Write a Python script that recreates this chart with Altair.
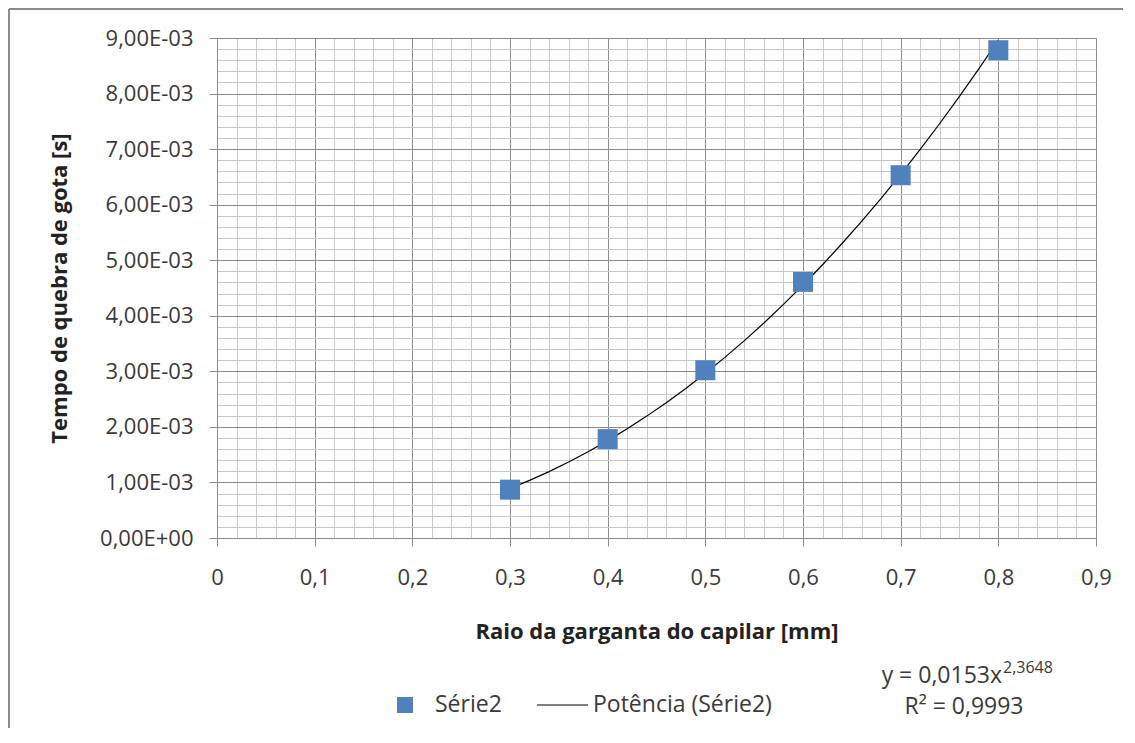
import altair as alt
import pandas as pd

# Data
radius_mm = [0.3, 0.4, 0.5, 0.6, 0.7, 0.8]
break_time_s = [0.00087, 0.00178, 0.00302, 0.00461, 0.00653, 0.00878]

# Tick positions (major every 0.1 / 0.001, minor every 0.02 / 0.0002)
x_ticks = [round(i * 0.02, 2) for i in range(46)]
y_ticks = [round(i * 0.0002, 5) for i in range(46)]

series_label = "Série2"
trend_label = "Potência (Série2)"
eq_main = "y = 0,0153x"
eq_exp = "2,3648"
r2_text = "R² = 0,9993"
x_title = "Raio da garganta do capilar [mm]"
y_title = "Tempo de quebra de gota [s]"

FONT = "Open Sans"
MAJOR = "#8c8c8c"
MINOR = "#c8c8c8"
TEXT = "#3a3a3a"
BLUE = "#4F81BD"

df = pd.DataFrame({"r": radius_mm, "t": break_time_s})

x_major_test = "abs(datum.value*10 - round(datum.value*10)) < 1e-6"
y_major_test = "abs(datum.value*1000 - round(datum.value*1000)) < 1e-6"

x_scale = alt.Scale(domain=[0, 0.9], nice=False, zero=False)
y_scale = alt.Scale(domain=[0, 0.009], nice=False, zero=False)

x_axis = alt.Axis(
    values=x_ticks,
    title=x_title,
    grid=True,
    gridColor={"condition": {"test": x_major_test, "value": MAJOR}, "value": MINOR},
    gridWidth=1,
    tickSize={"condition": {"test": x_major_test, "value": 8}, "value": 0},
    tickColor=MAJOR,
    domainColor=MAJOR,
    labelExpr=f"({x_major_test}) ? replace(format(datum.value, '.1~f'), '.', ',') : ''",
    labelOverlap=False,
    labelFlush=False,
    labelFont=FONT,
    labelFontSize=22,
    labelColor=TEXT,
    labelPadding=21,
    titleFont=FONT,
    titleFontSize=22,
    titleFontWeight="bold",
    titleColor="#222222",
    titlePadding=33,
)

y_axis = alt.Axis(
    values=y_ticks,
    title=y_title,
    grid=True,
    gridColor={"condition": {"test": y_major_test, "value": MAJOR}, "value": MINOR},
    gridWidth=1,
    tickSize={"condition": {"test": y_major_test, "value": 8}, "value": 0},
    tickColor=MAJOR,
    domainColor=MAJOR,
    labelExpr=(
        f"({y_major_test}) ? (datum.value == 0 ? '0,00E+00' : "
        "replace(format(datum.value*1000, '.2f'), '.', ',') + 'E-03') : ''"
    ),
    labelOverlap=False,
    labelFlush=False,
    labelFont=FONT,
    labelFontSize=22,
    labelColor=TEXT,
    labelPadding=16,
    titleFont=FONT,
    titleFontSize=22,
    titleFontWeight="bold",
    titleColor="#222222",
    titlePadding=28,
)

base = alt.Chart(df)

trend = base.transform_regression(
    "r", "t", method="pow", extent=[0.3, 0.8]
).mark_line(color="#000000", strokeWidth=1.2, clip=True).encode(
    x=alt.X("r:Q", scale=x_scale, axis=x_axis),
    y=alt.Y("t:Q", scale=y_scale, axis=y_axis),
)

points = base.mark_square(size=400, color=BLUE, opacity=1).encode(
    x=alt.X("r:Q", scale=x_scale, axis=x_axis),
    y=alt.Y("t:Q", scale=y_scale, axis=y_axis),
)

one = pd.DataFrame({"k": [0]})

def txt(s, x, y, size=23, align="left", weight="normal"):
    return alt.Chart(pd.DataFrame({"s": [s]})).mark_text(
        font=FONT, fontSize=size, align=align, baseline="middle",
        color=TEXT, fontWeight=weight
    ).encode(x=alt.value(x), y=alt.value(y), text="s:N")

leg_square = alt.Chart(one).mark_square(size=256, color=BLUE, opacity=1).encode(
    x=alt.value(188), y=alt.value(667)
)
leg_line = alt.Chart(one).mark_rule(color="#000000", strokeWidth=1).encode(
    x=alt.value(320), x2=alt.value(371), y=alt.value(667)
)

border_left = alt.Chart(one).mark_rule(color=MAJOR, strokeWidth=2).encode(
    x=alt.value(-208), y=alt.value(-29), y2=alt.value(710)
)
border_top = alt.Chart(one).mark_rule(color=MAJOR, strokeWidth=2).encode(
    x=alt.value(-208), x2=alt.value(1130), y=alt.value(-29)
)

chart = alt.layer(
    trend,
    points,
    leg_square,
    leg_line,
    txt(series_label, 218, 667),
    txt(trend_label, 376, 667),
    txt(eq_main, 785, 638, align="right"),
    txt(eq_exp, 786, 630, size=16),
    txt(r2_text, 747, 669, align="center"),
    border_left,
    border_top,
).properties(
    width=879,
    height=500,
    autosize=alt.AutoSizeParams(type="none"),
    padding={"left": 209, "top": 30, "right": 27, "bottom": 190},
).configure_view(stroke=None).configure(background="white")

chart.save("out.html", embed_options={"renderer": "svg", "actions": False})
